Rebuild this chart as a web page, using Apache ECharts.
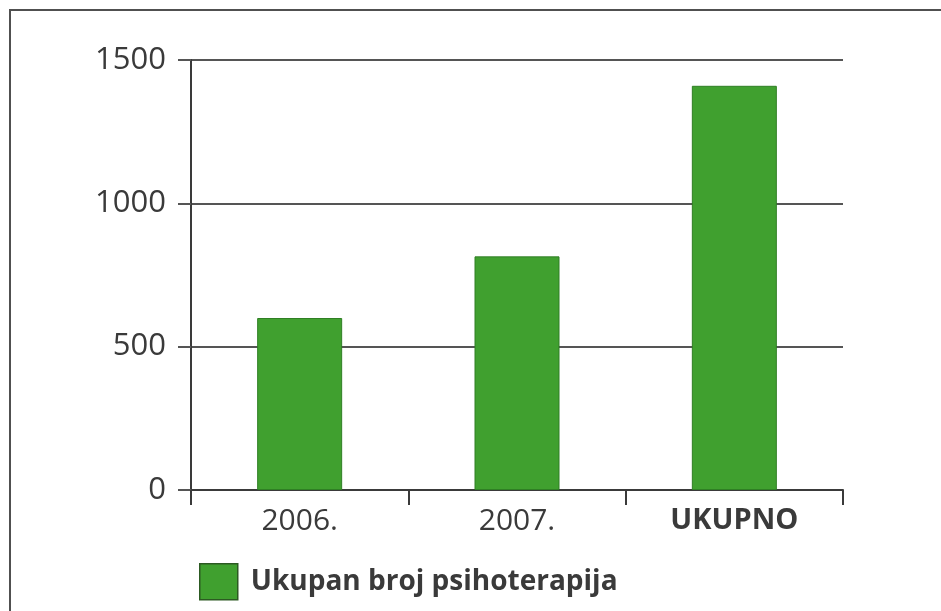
<!DOCTYPE html>
<html>
<head>
<meta charset="utf-8">
<script src="https://cdn.jsdelivr.net/npm/echarts@6/dist/echarts.min.js"></script>
<style>
html,body{margin:0;padding:0;background:#fff;}
#c{width:941px;height:611px;}
</style>
</head>
<body>
<div id="c"></div>
<script>
var categories = ['2006.', '2007.', 'UKUPNO'];
var values = [600, 815, 1410];
var seriesName = 'Ukupan broj psihoterapija';
var yTicks = [0, 500, 1000, 1500];

var chart = echarts.init(document.getElementById('c'), null, {renderer: 'canvas'});
var txt = '#3a3a3a';
var green = '#40a02f';
chart.setOption({
  backgroundColor: '#ffffff',
  animation: false,
  graphic: [{
    type: 'polyline', silent: true, z: 100,
    shape: {points: [[10, 620], [10, 10], [960, 10]]},
    style: {fill: 'none', stroke: '#505050', lineWidth: 2}
  }],
  grid: {left: 191, right: 98, top: 60, bottom: 121, containLabel: false},
  legend: {
    left: 194, top: 558, itemWidth: 38, itemHeight: 36, itemGap: 10,
    icon: 'rect',
    data: [{name: seriesName, itemStyle: {borderColor: '#2c5a22', borderWidth: 1.5}}],
    textStyle: {fontFamily: 'Open Sans', fontWeight: 'bold', fontSize: 28, color: txt, padding: [0,0,0,8]}
  },
  xAxis: {
    type: 'category', data: categories,
    axisLine: {lineStyle: {color: '#3a3a3a', width: 2}},
    axisTick: {show: true, interval: 0, length: 15, lineStyle: {color: '#3a3a3a', width: 2}},
    axisLabel: {
      interval: 0, margin: 16, fontFamily: 'Open Sans', fontSize: 30, color: txt,
      formatter: function (v) { return v === 'UKUPNO' ? '{b|' + v + '}' : v; },
      rich: {b: {fontFamily: 'Open Sans', fontWeight: 'bold', fontSize: 29, color: txt}}
    }
  },
  yAxis: {
    type: 'value', min: yTicks[0], max: yTicks[yTicks.length - 1], interval: 500,
    axisLine: {show: true, lineStyle: {color: '#3a3a3a', width: 2}},
    axisTick: {show: true, length: 13, lineStyle: {color: '#555', width: 2}},
    splitLine: {show: true, lineStyle: {color: '#555', width: 2}},
    axisLabel: {margin: 25, fontFamily: 'Open Sans', fontSize: 31, color: txt,
      formatter: function (v) { return String(v); }}
  },
  series: [{
    name: seriesName, type: 'bar', data: values, barWidth: 85,
    itemStyle: {color: green, borderColor: '#2f7f24', borderWidth: 1}
  }]
});
</script>
</body>
</html>
